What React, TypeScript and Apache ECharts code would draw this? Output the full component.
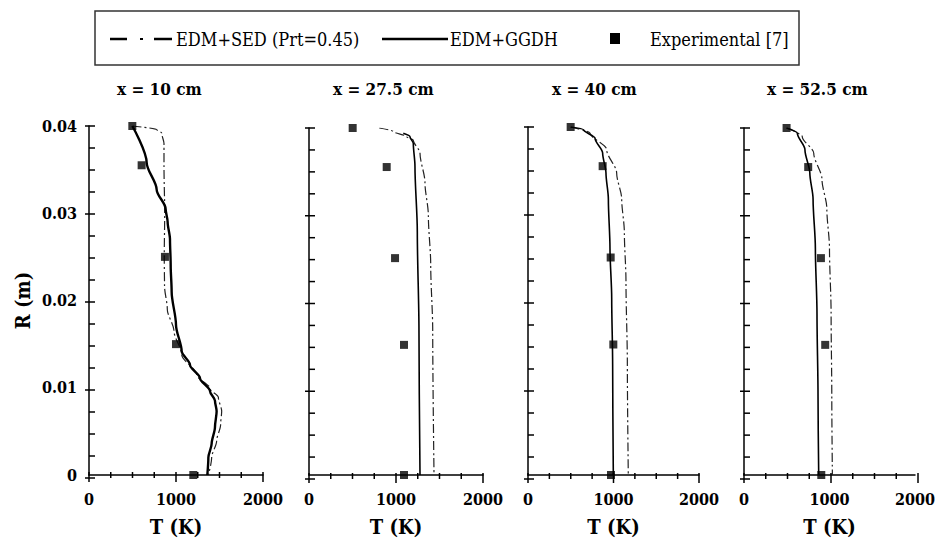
import React, { useEffect, useRef } from "react";
import * as echarts from "echarts";

// ---- data ----
const panelTitles = ["x = 10 cm", "x = 27.5 cm", "x = 40 cm", "x = 52.5 cm"];
const xTicks = [0, 1000, 2000];
const yTicks = [0, 0.01, 0.02, 0.03, 0.04];

const expR = [0.04, 0.0355, 0.025, 0.015, 0];
const expT10 = [498, 605, 873, 1000, 1199];
const expT275 = [502, 893, 989, 1092, 1092];
const expT40 = [499, 873, 967, 998, 971];
const expT525 = [498, 751, 900, 950, 904];

const ggdh10 = [[498, 0.04], [663, 0.0358], [778, 0.0327], [881, 0.0305], [904, 0.029], [931, 0.027], [939, 0.024], [950, 0.021], [1000, 0.0172], [1065, 0.0142], [1161, 0.0126], [1276, 0.0111], [1391, 0.0096], [1448, 0.0085], [1467, 0.0073], [1448, 0.0055], [1410, 0.0036], [1372, 0.002], [1360, 0]];
const ggdh275 = [[1084, 0.0394], [1161, 0.039], [1199, 0.0382], [1218, 0.0356], [1245, 0.028], [1264, 0.0166], [1276, 0]];
const ggdh40 = [[499, 0.04], [647, 0.0397], [784, 0.0387], [873, 0.037], [912, 0.0347], [940, 0.0317], [959, 0.026], [979, 0.0203], [990, 0.0127], [998, 0]];
const ggdh525 = [[498, 0.04], [624, 0.0394], [713, 0.0375], [770, 0.0348], [808, 0.0318], [835, 0.0261], [854, 0.0185], [866, 0.009], [874, 0]];

const sed10 = [[500, 0.04], [778, 0.0396], [835, 0.0392], [862, 0.038], [862, 0.0354], [870, 0.03], [865, 0.025], [868, 0.0217], [900, 0.019], [977, 0.0165], [1065, 0.0138], [1238, 0.0115], [1391, 0.0099], [1487, 0.0089], [1525, 0.0073], [1513, 0.0058], [1467, 0.0039], [1410, 0.002], [1372, 0]];
const sed275 = [[808, 0.04], [969, 0.0396], [1123, 0.039], [1199, 0.0386], [1276, 0.0371], [1333, 0.0337], [1372, 0.0299], [1399, 0.0242], [1422, 0.0166], [1437, 0]];
const sed40 = [[499, 0.04], [725, 0.0393], [920, 0.0374], [1037, 0.0347], [1096, 0.0317], [1127, 0.0279], [1146, 0.0222], [1162, 0.0127], [1173, 0]];
const sed525 = [[498, 0.04], [682, 0.039], [816, 0.0371], [912, 0.0341], [969, 0.0307], [1000, 0.0261], [1019, 0.0185], [1027, 0.009], [1034, 0]];

const expSets = [expT10, expT275, expT40, expT525];
const ggdhSets = [ggdh10, ggdh275, ggdh40, ggdh525];
const sedSets = [sed10, sed275, sed40, sed525];

// ---- layout ----
const FONT = "DejaVu Serif Condensed, DejaVu Serif";
const X_MIN = 0, X_MAX = 2000, X_MINOR = 250, X_MAJOR = 1000;
const Y_MIN = 0, Y_MAX = 0.04, Y_MINOR = 0.0025, Y_MAJOR = 0.01;
const grids = [
  { left: 89, top: 126, width: 174, height: 352 },
  { left: 309, top: 128, width: 174, height: 351 },
  { left: 528, top: 127, width: 171, height: 352 },
  { left: 744, top: 128, width: 174, height: 351 },
];
const titleLefts = [112, 328, 547, 762];

// tick marks along each panel's axes (same linear mapping as the value axes)
function tickGraphics(): any[] {
  const out: any[] = [];
  const st = { stroke: "#000", lineWidth: 1.5 };
  grids.forEach((g) => {
    const x0 = g.left;
    const y0 = g.top + g.height;
    const nx = Math.round((X_MAX - X_MIN) / X_MINOR);
    const xr = Math.round(X_MAJOR / X_MINOR);
    for (let k = 0; k <= nx; k++) {
      const px = x0 + (k * X_MINOR / (X_MAX - X_MIN)) * g.width;
      const major = k % xr === 0;
      out.push({ type: "line", silent: true, z: 10, shape: { x1: px, y1: y0 - 6, x2: px, y2: y0 + (major ? 4 : 0) }, style: st });
    }
    const ny = Math.round((Y_MAX - Y_MIN) / Y_MINOR);
    const yr = Math.round(Y_MAJOR / Y_MINOR);
    for (let k = 0; k <= ny; k++) {
      const py = y0 - (k * Y_MINOR / (Y_MAX - Y_MIN)) * g.height;
      const major = k % yr === 0;
      out.push({ type: "line", silent: true, z: 10, shape: { x1: x0 - (major ? 4 : 0), y1: py, x2: x0 + 6, y2: py }, style: st });
    }
  });
  return out;
}

export default function App() {
  const ref = useRef<HTMLDivElement>(null);
  useEffect(() => {
    document.body.style.margin = "0";
    if (!ref.current) return;
    const chart = echarts.init(ref.current, undefined, { renderer: "svg" });
    const black = "#000";
    const labelStyle = { fontFamily: FONT, fontWeight: "bold" as const, fontSize: 16, color: black };
    const lineSt = { color: black, width: 1.5 };

    const xAxis: any[] = [];
    const yAxis: any[] = [];
    const series: any[] = [];
    grids.forEach((_, i) => {
      xAxis.push({
        type: "value", gridIndex: i, min: X_MIN, max: X_MAX, interval: X_MAJOR, position: "bottom",
        axisLine: { show: true, onZero: false, lineStyle: lineSt },
        axisTick: { show: false },
        axisLabel: { ...labelStyle, margin: 16, formatter: (v: number) => (xTicks.includes(v) ? String(v) : "") },
        splitLine: { show: false },
        name: "T (K)", nameLocation: "middle", nameGap: 42,
        nameTextStyle: { fontFamily: FONT, fontWeight: "bold", fontSize: 20, color: black },
      });
      yAxis.push({
        type: "value", gridIndex: i, min: Y_MIN, max: Y_MAX, interval: Y_MAJOR, position: "left",
        axisLine: { show: true, onZero: false, lineStyle: lineSt },
        axisTick: { show: false },
        axisLabel: {
          show: i === 0, ...labelStyle, margin: 12,
          formatter: (v: number) => {
            const hit = yTicks.find((t) => Math.abs(t - v) < 1e-9);
            return hit === undefined ? "" : hit === 0 ? "0" : hit.toFixed(2);
          },
        },
        splitLine: { show: false },
        ...(i === 0
          ? { name: "R (m)", nameLocation: "middle", nameGap: 56, nameRotate: 90,
              nameTextStyle: { fontFamily: FONT, fontWeight: "bold", fontSize: 20, color: black } }
          : {}),
      });
      series.push({
        type: "line", name: "EDM+SED (Prt=0.45)", xAxisIndex: i, yAxisIndex: i,
        data: sedSets[i], showSymbol: false, smooth: 0.3, smoothMonotone: "y",
        lineStyle: { color: "#222", width: 1.2, type: [9, 3, 2, 3] }, z: 2,
      });
      series.push({
        type: "line", name: "EDM+GGDH", xAxisIndex: i, yAxisIndex: i,
        data: ggdhSets[i], showSymbol: false, smooth: 0.3, smoothMonotone: "y",
        lineStyle: { color: black, width: i === 0 ? 2.4 : 1.6 }, z: 3,
      });
      series.push({
        type: "scatter", name: "Experimental [7]", xAxisIndex: i, yAxisIndex: i,
        data: expSets[i].map((t, k) => [t, expR[k]]), symbol: "rect", symbolSize: 8,
        itemStyle: { color: black }, z: 4,
      });
    });

    const legendY = 39;
    const lt = { fontFamily: FONT, fontSize: 18, fill: black, verticalAlign: "middle" };
    chart.setOption({
      animation: false,
      backgroundColor: "#fff",
      title: panelTitles.map((t, i) => ({
        text: t, left: titleLefts[i], top: 75,
        textStyle: { fontFamily: FONT, fontWeight: "bold", fontSize: 17, color: black },
      })),
      grid: grids.map((g) => ({ ...g })),
      xAxis, yAxis, series,
      graphic: [
        { type: "rect", shape: { x: 95, y: 11, width: 704, height: 54 }, style: { fill: "none", stroke: "#333", lineWidth: 1.5 } },
        { type: "line", shape: { x1: 110, y1: legendY, x2: 127, y2: legendY }, style: { stroke: black, lineWidth: 2.5 } },
        { type: "line", shape: { x1: 140, y1: legendY, x2: 143, y2: legendY }, style: { stroke: black, lineWidth: 2 } },
        { type: "line", shape: { x1: 154, y1: legendY, x2: 172, y2: legendY }, style: { stroke: black, lineWidth: 2.5 } },
        { type: "text", x: 176, y: legendY, style: { ...lt, text: "EDM+SED (Prt=0.45)" } },
        { type: "line", shape: { x1: 382, y1: legendY, x2: 448, y2: legendY }, style: { stroke: black, lineWidth: 2.5 } },
        { type: "text", x: 450, y: legendY, style: { ...lt, text: "EDM+GGDH" } },
        { type: "rect", shape: { x: 610, y: 33, width: 10, height: 11 }, style: { fill: black } },
        { type: "text", x: 650, y: legendY, style: { ...lt, text: "Experimental [7]" } },
        ...tickGraphics(),
      ],
    });
    return () => chart.dispose();
  }, []);
  return <div ref={ref} style={{ width: 938, height: 542 }} />;
}
